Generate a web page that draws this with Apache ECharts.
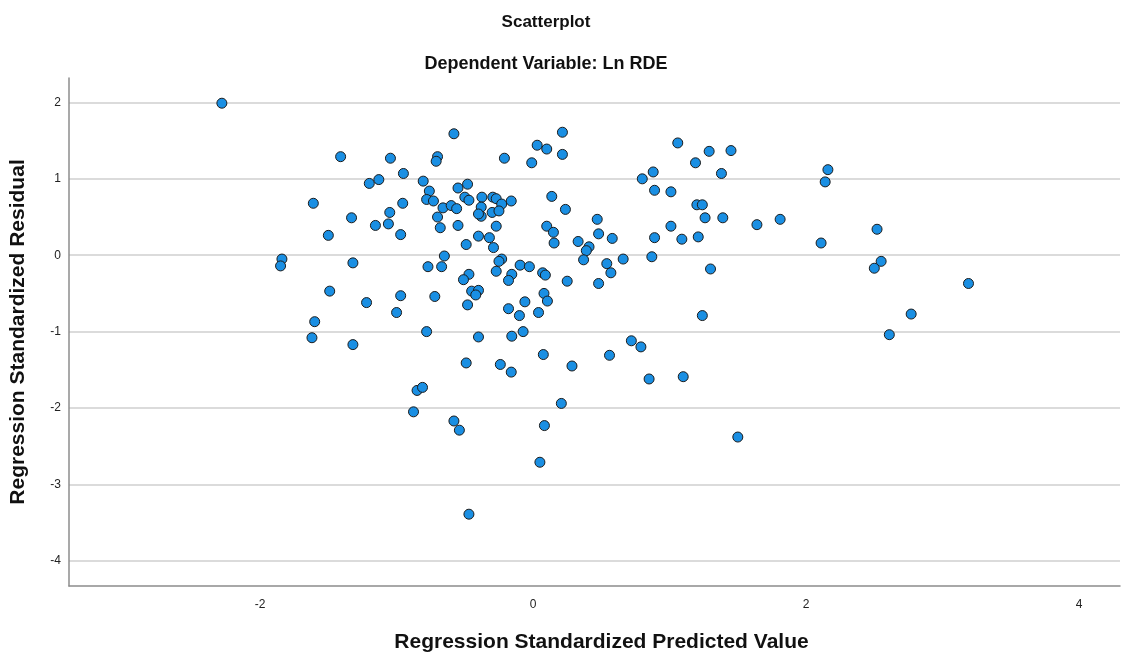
<!DOCTYPE html>
<html>
<head>
<meta charset="utf-8">
<title>Scatterplot</title>
<script src="https://cdn.jsdelivr.net/npm/echarts@6/dist/echarts.min.js"></script>
<style>
  html, body { margin: 0; padding: 0; background: #fff; }
  #scatterChart { width: 1127px; height: 654px; }
</style>
</head>
<body>
<div id="scatterChart"></div>
<script>
// standardized predicted value (x) and standardized residual (y)
const predicted = [
  -2.28, -1.41, -1.61, -1.33, -1.50, -1.84, -1.85, -1.32, -1.49, -1.60, -1.62,
  -0.58, -1.045, -0.70, -0.71, -0.21, 0.03, 0.10, -0.01, -1.20, -1.13, -0.95,
  -0.805, -0.76, -0.78, -0.73, -0.55, -0.48, -0.50, -0.47, -0.375, -0.295, -0.27,
  -0.16, -0.23, -0.38, -0.38, -0.40, -0.30, -0.25, -0.66, -0.60, -0.56, -0.70,
  -0.68, -0.55, -0.40, -0.32, -0.49, -0.29, -0.27, -1.05, -0.955, -1.155, -1.06,
  -0.97,
  -0.77, -0.65, -0.67, -0.23, -0.25, -0.095, -0.027, -0.27, -0.156, -0.18, -0.47,
  -0.51, -0.45, -0.40, -0.42, -0.97, -0.72, -1.22, -1.00, -0.48, -0.06, -0.18,
  -0.10, 0.04, -0.78, -0.073, -0.40, -0.156, -1.32, -0.49, -0.24, -0.16, -0.85,
  -0.81,
  -0.876, -0.58, -0.54, 0.083, 0.05, -0.47,
  0.215, 0.215, 1.06, 1.29, 1.45, 1.19, 1.38, 0.88, 0.80, 0.89, 1.01, 0.137,
  0.237, 1.20, 1.24, 1.26, 1.39, 0.47, 0.10, 0.149, 0.154, 0.33, 0.41, 0.39,
  0.48, 0.58, 0.89, 1.01, 1.09, 1.21, 0.87, 0.66, 0.37, 0.54, 0.57, 1.30,
  0.07, 0.09,
  0.25, 0.48, 0.08, 0.105, 1.24, 0.72, 0.79, 0.075, 0.56, 0.285, 0.85, 1.10,
  0.207, 1.50,
  2.16, 2.14, 1.64, 1.81, 2.11, 2.52, 2.55, 2.50, 3.19, 2.77, 2.61
];
const residual = [
  1.99, 1.29, 0.68, 0.49, 0.26, -0.05, -0.14, -0.10, -0.47, -0.87, -1.08,
  1.59, 1.27, 1.29, 1.23, 1.27, 1.44, 1.39, 1.21, 0.94, 0.99, 1.07,
  0.97, 0.84, 0.73, 0.71, 0.88, 0.93, 0.76, 0.72, 0.76, 0.76, 0.74,
  0.71, 0.67, 0.63, 0.51, 0.54, 0.56, 0.58, 0.62, 0.65, 0.61, 0.50,
  0.36, 0.39, 0.25, 0.23, 0.14, 0.10, 0.38, 0.56, 0.68, 0.39, 0.41,
  0.27,
  -0.15, -0.01, -0.15, -0.05, -0.08, -0.13, -0.15, -0.21, -0.25, -0.33, -0.25,
  -0.32, -0.47, -0.46, -0.52, -0.53, -0.54, -0.62, -0.75, -0.65, -0.61, -0.70,
  -0.79, -0.75, -1.00, -1.00, -1.07, -1.06, -1.17, -1.41, -1.43, -1.53, -1.77,
  -1.73,
  -2.05, -2.17, -2.29, -2.23, -2.71, -3.39,
  1.61, 1.32, 1.47, 1.36, 1.37, 1.21, 1.07, 1.09, 1.00, 0.85, 0.83, 0.77,
  0.60, 0.66, 0.66, 0.49, 0.49, 0.47, 0.38, 0.30, 0.16, 0.18, 0.11, 0.06,
  0.28, 0.22, 0.23, 0.38, 0.21, 0.24, -0.02, -0.05, -0.06, -0.11, -0.23, -0.18,
  -0.23, -0.26,
  -0.34, -0.37, -0.50, -0.60, -0.79, -1.12, -1.20, -1.30, -1.31, -1.45, -1.62, -1.59,
  -1.94, -2.38,
  1.12, 0.96, 0.40, 0.47, 0.16, 0.34, -0.08, -0.17, -0.37, -0.77, -1.04
];
const xTicks = [-2, 0, 2, 4];
const yTicks = [-4, -3, -2, -1, 0, 1, 2];

const chart = echarts.init(document.getElementById('scatterChart'));
const font = '"Liberation Sans", Arial, sans-serif';

chart.setOption({
  animation: false,
  textStyle: { fontFamily: font },
  title: [{
    text: 'Scatterplot',
    left: 541,
    textAlign: 'center',
    top: 9,
    textStyle: { fontSize: 17, fontWeight: 'bold', color: '#111', fontFamily: font }
  }, {
    text: 'Dependent Variable: Ln RDE',
    left: 541,
    textAlign: 'center',
    top: 50,
    textStyle: { fontSize: 18, fontWeight: 'bold', color: '#111', fontFamily: font }
  }],
  grid: {
    left: 69,
    right: 7,
    top: 78,
    bottom: 68,
    outerBoundsMode: 'none'
  },
  xAxis: {
    type: 'value',
    min: -3.4,
    max: 4.3,
    name: 'Regression Standardized Predicted Value',
    nameLocation: 'middle',
    nameGap: 46,
    nameTextStyle: { fontSize: 21, fontWeight: 'bold', color: '#111', verticalAlign: 'top', padding: [0, 0, 0, 14] },
    axisLine: { onZero: false, lineStyle: { color: '#8c8c8c', width: 1.5 } },
    axisTick: { show: false, customValues: xTicks },
    axisLabel: { customValues: xTicks, fontSize: 12, color: '#222', margin: 13 },
    splitLine: { show: false }
  },
  yAxis: {
    type: 'value',
    min: -4.33,
    max: 2.32,
    name: 'Regression Standardized Residual',
    nameLocation: 'middle',
    nameGap: 40,
    nameTextStyle: { fontSize: 21, fontWeight: 'bold', color: '#111' },
    axisLine: { show: true, onZero: false, lineStyle: { color: '#8c8c8c', width: 1.5 } },
    axisTick: { show: false, customValues: yTicks },
    axisLabel: { customValues: yTicks, fontSize: 12, color: '#222', margin: 8 },
    splitLine: { show: true, lineStyle: { color: '#cfcfcf', width: 1.5 } }
  },
  series: [{
    type: 'scatter',
    symbol: 'circle',
    symbolSize: 10,
    itemStyle: {
      color: '#1a8fe3',
      borderColor: '#1b1b1b',
      borderWidth: 1,
      opacity: 1
    },
    data: predicted.map((x, i) => [x, residual[i]])
  }]
});
</script>
</body>
</html>
